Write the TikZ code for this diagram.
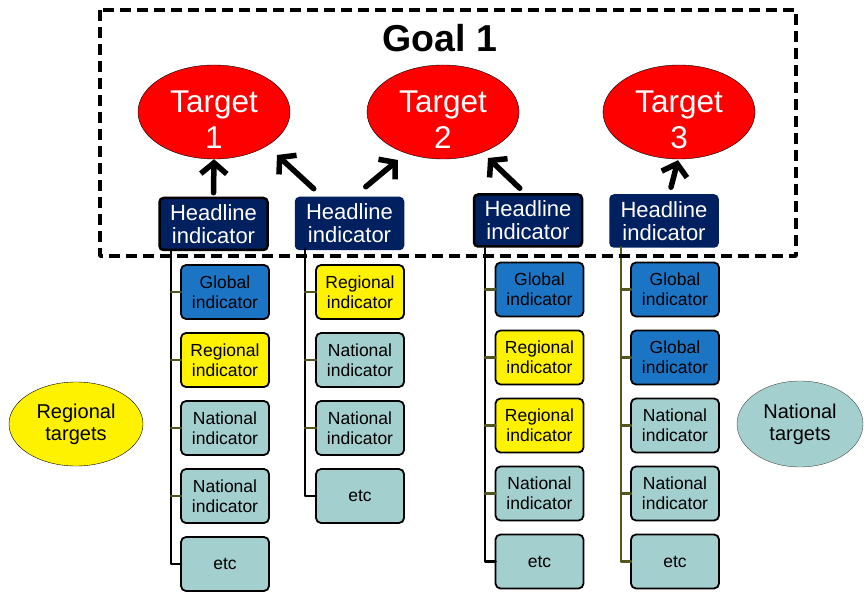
\documentclass[tikz,border=0pt]{standalone}
\usepackage{fontspec}
\setmainfont{Liberation Sans}
\usepackage{tikz}
\usetikzlibrary{arrows.meta}
\usetikzlibrary{positioning}
\usetikzlibrary{shapes.geometric}
\definecolor{navy}{RGB}{0,32,96}
\definecolor{globalblue}{RGB}{28,117,196}
\definecolor{natteal}{RGB}{164,207,207}
\definecolor{olivetick}{RGB}{85,85,30}

\begin{document}
\begin{tikzpicture}[line cap=round,line join=round,x=1pt,y=-1pt,
	ziel/.style={ellipse,draw=black,fill=red,minimum width=152pt,minimum height=94pt,inner sep=0pt},
	zieltext/.style={text=white,align=center,inner sep=0pt,font=\fontsize{31.5}{36}\selectfont},
	kopf/.style={rounded corners=4pt,fill=navy,draw=navy,line width=1.5pt,text=white,minimum width=108pt,minimum height=52pt,inner sep=0pt,align=center,font=\fontsize{22}{23}\selectfont},
	kopfrand/.style={kopf,draw=black,line width=2.5pt},
	ind/.style={rounded corners=5pt,draw=black,line width=1.8pt,outer sep=0pt,minimum width=88pt,minimum height=54pt,inner sep=0pt,align=center,font=\fontsize{17.5}{20}\selectfont},
	glob/.style={ind,fill=globalblue},
	reg/.style={ind,fill=yellow},
	nat/.style={ind,fill=natteal},
	pfeil/.style={line width=5.5pt,-{Straight Barb[length=11pt,width=26pt]}},
	ast/.style={line width=2.8pt,black},
	zweig/.style={line width=2.4pt,olivetick}]
	\useasboundingbox (0,0) rectangle (864,593);
	% Ziele
	\node[ziel] (t1) at (214,112) {};
	\node[ziel] (t2) at (443,112) {};
	\node[ziel] (t3) at (679,112) {};
	\node[zieltext] (tt1) at ([yshift=-8pt]t1.center) {Target\\1};
	\node[zieltext] (tt2) at ([yshift=-8pt]t2.center) {Target\\2};
	\node[zieltext] (tt3) at ([yshift=-8pt]t3.center) {Target\\3};
	\node[font=\fontsize{37.5}{40}\selectfont\bfseries] (goal) at (440,38) {Goal 1};
	% Leitindikatoren
	\node[kopfrand] (h1) at (213.5,224) {Headline\\indicator};
	\node[kopf] (h2) at (349.5,223.5) {Headline\\indicator};
	\node[kopfrand] (h3) at (528,220.5) {Headline\\indicator};
	\node[kopf] (h4) at (664,221) {Headline\\indicator};
	\draw[pfeil] ([yshift=4pt]h1.north) -- (t1.south);
	\draw[pfeil] ([shift={(19,-8)}]h2.north west) -- ([shift={(63,43)}]t1.center);
	\draw[pfeil] ([shift={(71,-10)}]h2.north west) -- ([shift={(-45,48)}]t2.center);
	\draw[pfeil] ([shift={(47,-5)}]h3.north west) -- ([shift={(45,46)}]t2.center);
	\draw[pfeil] ([shift={(7,-7)}]h4.north) -- ([shift={(-1,1)}]t3.south);
	% Spalte 1
	\node[glob] (a1) at (225,292) {Global\\indicator};
	\node[reg,below=14pt of a1] (a2) {Regional\\indicator};
	\node[nat,below=14pt of a2] (a3) {National\\indicator};
	\node[nat,below=14pt of a3] (a4) {National\\indicator};
	\node[nat,below=14pt of a4] (a5) {etc};
	% Spalte 2
	\node[reg] (b1) at (360,292) {Regional\\indicator};
	\node[nat,below=14pt of b1] (b2) {National\\indicator};
	\node[nat,below=14pt of b2] (b3) {National\\indicator};
	\node[nat,below=14pt of b3] (b4) {etc};
	% Spalte 3
	\node[glob] (c1) at (539.5,289.5) {Global\\indicator};
	\node[reg,below=14pt of c1] (c2) {Regional\\indicator};
	\node[reg,below=14pt of c2] (c3) {Regional\\indicator};
	\node[nat,below=14pt of c3] (c4) {National\\indicator};
	\node[nat,below=14pt of c4] (c5) {etc};
	% Spalte 4
	\node[glob] (d1) at (675,289.5) {Global\\indicator};
	\node[glob,below=14pt of d1] (d2) {Global\\indicator};
	\node[nat,below=14pt of d2] (d3) {National\\indicator};
	\node[nat,below=14pt of d3] (d4) {National\\indicator};
	\node[nat,below=14pt of d4] (d5) {etc};
	% Baumlinien
	\coordinate (sa) at (171,251);
	\coordinate (sb) at (305,249);
	\coordinate (sc) at (485,248);
	\coordinate (sd) at (621,247);
	\draw[ast] (sa) |- (a5.west);
	\draw[ast] (sb) |- (b4.west);
	\draw[ast] (sc) |- (c5.west);
	\draw[zweig] (sd) |- (d5.west);
	\foreach \i in {1,...,4}
	\draw[zweig] (sa |- a\i.west) -- (a\i.west);
	\foreach \i in {1,...,3}
	\draw[zweig] (sb |- b\i.west) -- (b\i.west);
	\foreach \i in {1,...,4}
	\draw[zweig] (sc |- c\i.west) -- (c\i.west);
	\foreach \i in {1,...,4}
	\draw[zweig] (sd |- d\i.west) -- (d\i.west);
	% Rahmen
	\draw[line width=3.5pt,line cap=butt,dash pattern=on 11pt off 6pt] (100,10) rectangle (796,256);
	% Seitliche Ziele
	\node[ellipse,draw=black,fill=yellow,minimum width=134pt,minimum height=84pt,inner sep=0pt,align=center,font=\fontsize{20}{22}\selectfont] (rz) at (76,424) {Regional\\targets};
	\node[ellipse,draw=black!70,fill=natteal,minimum width=126pt,minimum height=86pt,inner sep=0pt,align=center,font=\fontsize{20}{22}\selectfont] (nz) at (800,424) {National\\targets};
\end{tikzpicture}
\end{document}
